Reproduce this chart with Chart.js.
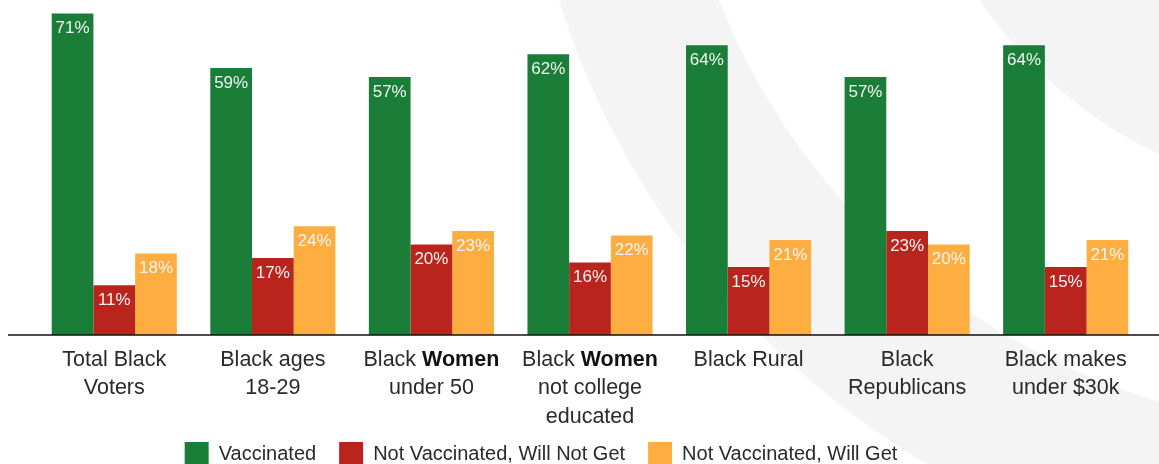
<!DOCTYPE html>
<html><head><meta charset="utf-8">
<script src="https://cdn.jsdelivr.net/npm/chart.js@4"></script>
<style>html,body{margin:0;padding:0;background:#fff;overflow:hidden}#wrap{width:1159px;height:464px;position:relative}</style>
</head><body><div id="wrap"><canvas id="c" width="1159" height="464"></canvas></div>
<script>
// ---- data ----
const categories = ["Total Black Voters","Black ages 18-29","Black Women under 50","Black Women not college educated","Black Rural","Black Republicans","Black makes under $30k"];
// tick labels, one array of lines per category; **text** = bold
const tickLabels = [
  ["Total Black","Voters"],
  ["Black ages","18-29"],
  ["Black **Women**","under 50"],
  ["Black **Women**","not college","educated"],
  ["Black Rural"],
  ["Black","Republicans"],
  ["Black makes","under $30k"]
];
const seriesNames = ["Vaccinated","Not Vaccinated, Will Not Get","Not Vaccinated, Will Get"];
const vaccinated = [71,59,57,62,64,57,64];
const willNotGet = [11,17,20,16,15,23,15];
const willGet    = [18,24,23,22,21,20,21];
const seriesColors = ["#1a7e38","#b9251d","#feae40"];

const FONT = '"Liberation Sans", Arial, sans-serif';

const bgPlugin = {
  id:'bg',
  beforeDraw(chart){
    const ctx = chart.ctx, w = chart.width, h = chart.height;
    ctx.save();
    ctx.fillStyle = '#ffffff'; ctx.fillRect(0,0,w,h);
    const cx = 1350, cy = -250;
    const rings = [[830,'#f4f4f4'],[679,'#ffffff'],[447,'#f4f4f4']];
    rings.forEach(([r,c])=>{ctx.beginPath();ctx.arc(cx,cy,r,0,Math.PI*2);ctx.fillStyle=c;ctx.fill();});
    ctx.restore();
  }
};

const overlayPlugin = {
  id:'overlay',
  afterDatasetsDraw(chart){
    const ctx = chart.ctx;
    ctx.save();
    // value labels
    ctx.font = '17px ' + FONT;
    ctx.fillStyle = '#f4f4f4';
    ctx.textAlign = 'center';
    ctx.textBaseline = 'middle';
    chart.data.datasets.forEach((ds,di)=>{
      chart.getDatasetMeta(di).data.forEach((el,i)=>{
        ctx.fillText(ds.data[i] + '%', el.x, el.y + 15);
      });
    });
    // baseline
    const y0 = chart.scales.y.getPixelForValue(0);
    ctx.strokeStyle = '#111';
    ctx.lineWidth = 1.4;
    ctx.beginPath(); ctx.moveTo(8, y0); ctx.lineTo(chart.width, y0); ctx.stroke();
    ctx.restore();
  },
  afterDraw(chart){
    const ctx = chart.ctx;
    ctx.save();
    // category labels with bold segments
    const fs = 21.5, lh = 28.5;
    const normal = fs + 'px ' + FONT, bold = '700 ' + fs + 'px ' + FONT;
    const y0 = chart.scales.y.getPixelForValue(0);
    ctx.textBaseline = 'middle';
    ctx.textAlign = 'left';
    tickLabels.forEach((lines,i)=>{
      const cx = chart.scales.x.getPixelForValue(i);
      lines.forEach((line,li)=>{
        const parts = line.split('**').map((t,k)=>({t, b:k%2===1})).filter(p=>p.t.length);
        let total = 0;
        parts.forEach(p=>{ctx.font = p.b?bold:normal; p.w = ctx.measureText(p.t).width; total += p.w;});
        let x = cx - total/2;
        const y = y0 + 25 + li*lh;
        parts.forEach(p=>{ctx.font = p.b?bold:normal; ctx.fillStyle = p.b?'#111':'#2a2a2a'; ctx.fillText(p.t, x, y); x += p.w;});
      });
    });
    // legend
    const lfs = 20, boxW = 24, boxH = 22, gapBT = 10, gapItem = 23;
    ctx.font = lfs + 'px ' + FONT;
    const items = chart.data.datasets.map(ds=>({t:ds.label, c:ds.backgroundColor, w:ctx.measureText(ds.label).width}));
    let tw = 0; items.forEach((it,k)=>{tw += boxW + gapBT + it.w + (k?gapItem:0);});
    let x = 541 - tw/2;
    const by = 442;
    items.forEach(it=>{
      ctx.fillStyle = it.c; ctx.fillRect(x, by, boxW, boxH);
      x += boxW + gapBT;
      ctx.fillStyle = '#2a2a2a'; ctx.fillText(it.t, x, by + boxH/2 + 1);
      x += it.w + gapItem;
    });
    ctx.restore();
  }
};

new Chart(document.getElementById('c'), {
  type:'bar',
  data:{
    labels: categories,
    datasets:[
      {label:seriesNames[0], data:vaccinated, backgroundColor:seriesColors[0]},
      {label:seriesNames[1], data:willNotGet, backgroundColor:seriesColors[1]},
      {label:seriesNames[2], data:willGet, backgroundColor:seriesColors[2]}
    ]
  },
  options:{
    responsive:false,
    animation:false,
    devicePixelRatio:1,
    layout:{padding:{left:35, right:14, top:0, bottom:129}},
    datasets:{bar:{categoryPercentage:0.789, barPercentage:1, borderWidth:0}},
    plugins:{legend:{display:false}, tooltip:{enabled:false}},
    scales:{
      x:{display:false},
      y:{display:false, min:0, max:74}
    }
  },
  plugins:[bgPlugin, overlayPlugin]
});
</script></body></html>
